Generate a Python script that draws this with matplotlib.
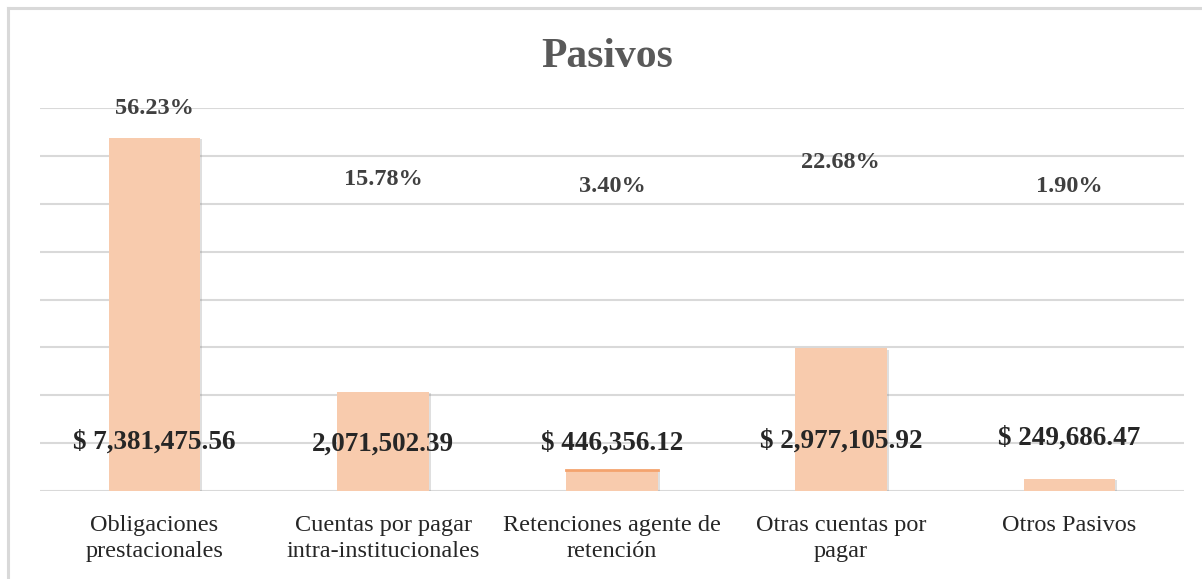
import matplotlib
matplotlib.use("Agg")
import matplotlib.pyplot as plt
from matplotlib.lines import Line2D
import matplotlib.patheffects as pe

plt.rcParams['font.family'] = ['Liberation Serif', 'DejaVu Serif']

categories = ["Obligaciones\nprestacionales",
              "Cuentas por pagar\nintra-institucionales",
              "Retenciones agente de\nretención",
              "Otras cuentas por\npagar",
              "Otros Pasivos"]
values = [7381475.56, 2071502.39, 446356.12, 2977105.92, 249686.47]
pct_labels = ["56.23%", "15.78%", "3.40%", "22.68%", "1.90%"]
value_labels = ["$ 7,381,475.56", "2,071,502.39", "$ 446,356.12",
                "$ 2,977,105.92", "$ 249,686.47"]

# label placement as set by hand in the original chart (data units)
pct_y = [8.0e6, 6.5e6, 6.37e6, 6.87e6, 6.37e6]
val_y = [1.02e6, 0.98e6, 1.0e6, 1.04e6, 1.1e6]

fig = plt.figure(figsize=(12.02, 5.79), dpi=100)
ax = fig.add_axes([40/1202, 1-491/579, (1184-40)/1202, (491-108)/579])

x = list(range(len(categories)))
bars = ax.bar(x, values, width=0.4, color='#f8cbad', zorder=3,
              path_effects=[pe.SimplePatchShadow(offset=(1.5, -1), alpha=0.25, shadow_rgbFace='#808080'), pe.Normal()])
# thin darker top on the third bar
ax.plot([x[2]-0.2, x[2]+0.2], [values[2], values[2]], color='#f4a36e', lw=2, zorder=4)

ax.set_xlim(-0.5, len(categories)-0.5)
ax.set_ylim(0, 8e6)
ax.set_yticks([i*1e6 for i in range(9)])
ax.yaxis.grid(True, color='#d9d9d9', lw=1.5, zorder=0)
ax.tick_params(axis='y', left=False, labelleft=False)
ax.tick_params(axis='x', bottom=False, pad=14)
ax.set_xticks(x)
ax.set_xticklabels(categories, fontsize=17.5, color='#262626', linespacing=1.3)
for s in ax.spines.values():
    s.set_visible(False)

for i in x:
    ax.text(i, pct_y[i], pct_labels[i], ha='center', va='center',
            fontsize=17.5, fontweight='bold', color='#404040', zorder=5)
    ax.text(i, val_y[i], value_labels[i], ha='center', va='center',
            fontsize=19.5, fontweight='bold', color='#262626', zorder=5)

fig.text(607/1202, 1-57/579, "Pasivos", ha='center', va='center',
         fontsize=30, fontweight='bold', color='#595959')

# chart frame (left and top edges)
fig.add_artist(Line2D([8/1202, 8/1202], [0, 1-8/579], color='#d9d9d9', lw=2.2))
fig.add_artist(Line2D([8/1202, 1], [1-8/579, 1-8/579], color='#d9d9d9', lw=2.2))

fig.savefig("out.png", dpi=100)
